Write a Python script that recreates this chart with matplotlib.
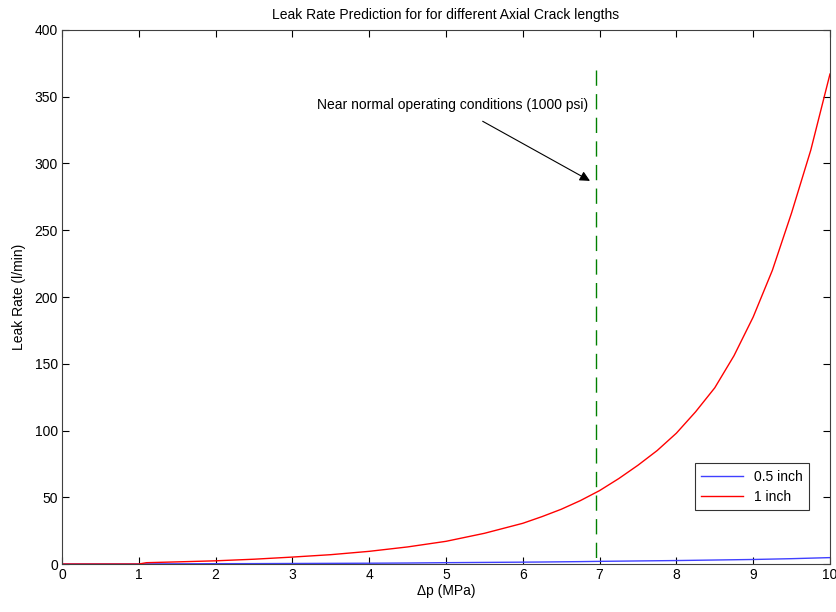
import numpy as np
import matplotlib.pyplot as plt

plt.rcParams['font.family'] = ['Liberation Sans', 'DejaVu Sans']

# presion diferencial [MPa]
dp = [0, 0.5, 1.0, 1.1, 1.5, 2, 2.5, 3, 3.5, 4, 4.5, 5, 5.5, 6, 6.25, 6.5, 6.75,
      7, 7.25, 7.5, 7.75, 8, 8.25, 8.5, 8.75, 9, 9.25, 9.5, 9.75, 10]
# fuga grieta 1 inch [l/min]
leak_1in = [0, 0, 0, 1.0, 1.6, 2.4, 3.6, 5.2, 7, 9.5, 12.8, 17, 23, 30.5, 35.5, 41, 47.5,
            55, 64, 74, 85, 98, 114, 132, 156, 185, 220, 263, 310, 367]
# fuga grieta 0.5 inch [l/min]
leak_05in = [0, 0, 0, 0.1, 0.15, 0.25, 0.3, 0.4, 0.5, 0.6, 0.75, 1.0, 1.2, 1.4, 1.5, 1.65, 1.8,
             2.0, 2.15, 2.3, 2.45, 2.6, 2.8, 3.0, 3.2, 3.4, 3.7, 4.0, 4.4, 4.8]

x_op = 6.95      # condicion normal de operacion
y_op_top = 370

f = plt.figure(figsize=(8.37, 6.12), dpi=100)
ax = f.add_axes([0.0741, 0.0784, 0.9175, 0.8726])

ax.plot(dp, leak_05in, color=(0.25, 0.25, 1.0), lw=1.0, label='0.5 inch')
ax.plot(dp, leak_1in, color='red', lw=1.0, label='1 inch')
ax.plot([x_op, x_op], [y_op_top, 0], color=(0, 0.5, 0), lw=1.0, dashes=(11, 6))

ax.annotate('Near normal operating conditions (1000 psi)', xy=(6.875, 287), xytext=(5.09, 344),
            ha='center', va='center', fontsize=10,
            arrowprops=dict(arrowstyle='-|>', color='black', lw=0.8, mutation_scale=15,
                            shrinkA=10, shrinkB=0))

ax.set_xlim(0, 10)
ax.set_ylim(0, 400)
ax.set_xticks(range(0, 11))
ax.set_yticks(range(0, 401, 50))
ax.tick_params(direction='in', length=5, top=True, right=True, labelsize=10, pad=3)
for s in ax.spines.values():
    s.set_color('#404040')
    s.set_linewidth(0.8)

ax.set_title('Leak Rate Prediction for for different Axial Crack lengths', fontsize=10, pad=8)
ax.set_xlabel('Δp (MPa)', fontsize=10, labelpad=1)
ax.set_ylabel('Leak Rate (l/min)', fontsize=10, labelpad=6)

leg = ax.legend(loc='lower right', bbox_to_anchor=(0.973, 0.101), borderaxespad=0,
                fancybox=False, edgecolor='black', fontsize=10, handlelength=3.0,
                borderpad=0.45, labelspacing=0.45)
leg.get_frame().set_linewidth(0.8)

f.savefig('out.png', dpi=100)
